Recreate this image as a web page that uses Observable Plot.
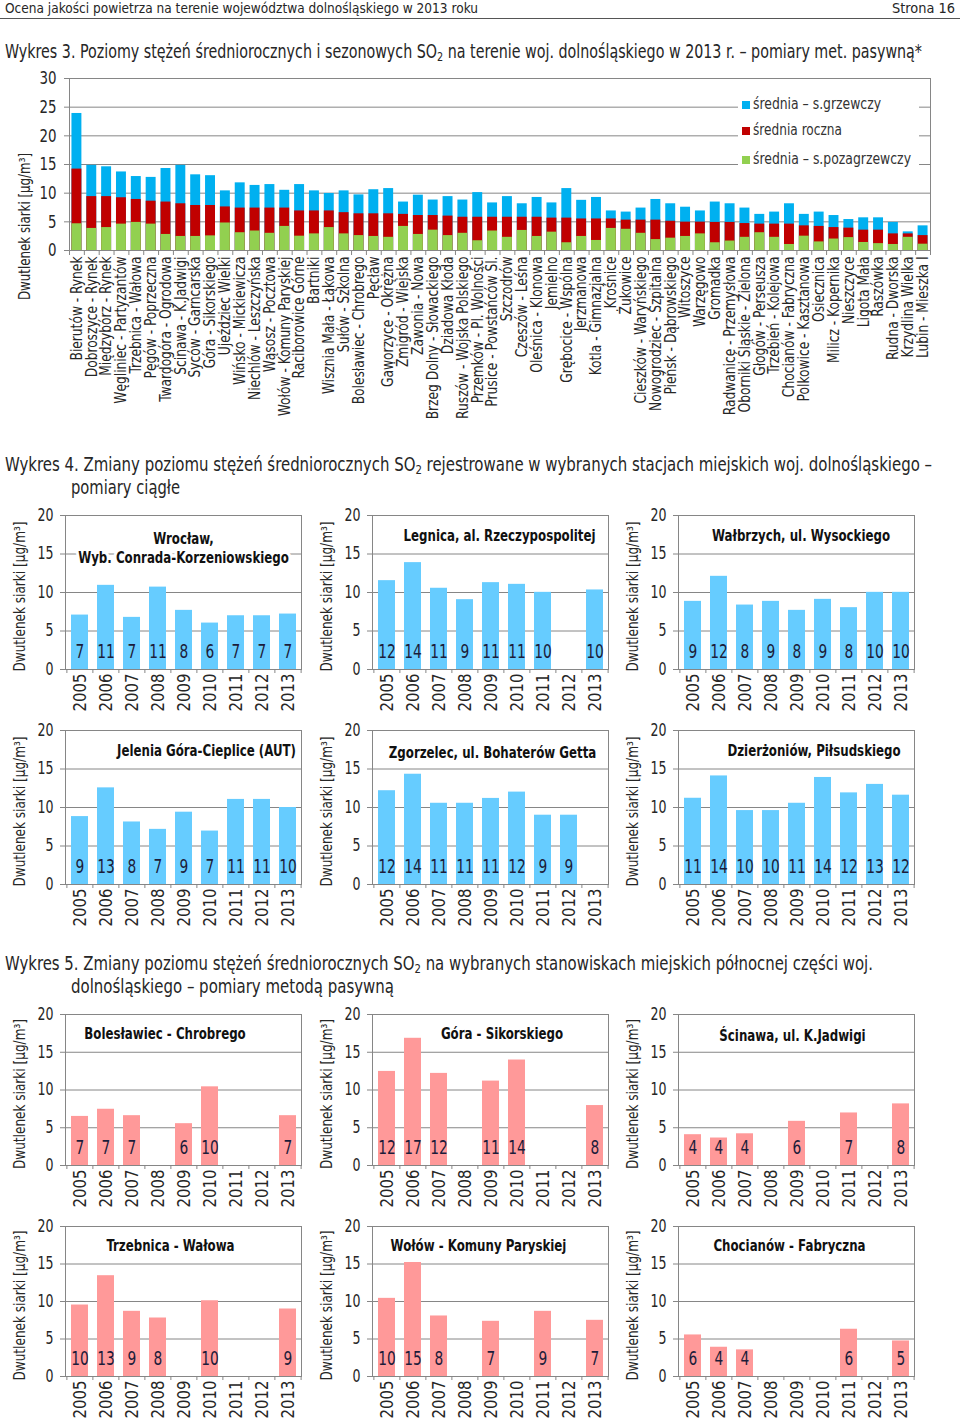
<!DOCTYPE html>
<html><head><meta charset="utf-8">
<script src="https://cdn.jsdelivr.net/npm/d3@7"></script>
<script src="https://cdn.jsdelivr.net/npm/@observablehq/plot@0.6"></script>
<style>
body{margin:0;background:#fff;}
#page{position:relative;width:960px;height:1419px;overflow:hidden;background:#fff;}
</style></head><body><div id="page"></div>
<script>
// ---------- DATA ----------
const stations = ["Bierutów - Rynek","Dobroszyce - Rynek","Międzybórz - Rynek","Węgliniec - Partyzantów","Trzebnica - Wałowa","Pęgów - Poprzeczna","Twardogóra - Ogrodowa","Ścinawa - K.Jadwigi","Syców - Garncarska","Góra - Sikorskiego","Ujeździec Wielki","Wińsko - Mickiewicza","Niechlów - Leszczyńska","Wąsosz - Pocztowa","Wołów - Komuny Paryskiej","Raciborowice Górne","Bartniki","Wisznia Mała - Łąkowa","Sułów - Szkolna","Bolesławiec - Chrobrego","Pęcław","Gaworzyce - Okrężna","Żmigród - Wiejska","Zawonia - Nowa","Brzeg Dolny - Słowackiego","Dziadowa Kłoda","Ruszów - Wojska Polskiego","Przemków - Pl. Wolności","Prusice - Powstańców Śl.","Szczodrów","Czeszów - Leśna","Oleśnica - Klonowa","Jemielno","Grębocice - Wspólna","Jerzmanowa","Kotla - Gimnazjalna","Krośnice","Żukowice","Cieszków - Waryńskiego","Nowogrodziec - Szpitalna","Pieńsk - Dąbrowskiego","Witoszyce","Warzęgowo","Gromadka","Radwanice - Przemysłowa","Oborniki Śląskie - Zielona","Głogów - Perseusza","Trzebień - Kolejowa","Chocianów - Fabryczna","Polkowice - Kasztanowa","Osiecznica","Milicz - Kopernika","Nieszczyce","Ligota Mała","Raszówka","Rudna - Dworska","Krzydlina Wielka","Lubin - Mieszka I"];
const sGrzewczy = [23.9,14.85,14.6,13.7,12.9,12.75,14.3,14.85,13.2,13.05,10.4,11.8,11.35,11.5,10.5,11.5,10.4,9.95,10.4,9.7,10.6,10.8,8.45,9.65,8.8,9.4,8.8,10.1,8.3,9.4,8.15,9.25,8.3,10.8,8.75,9.25,6.9,6.7,7.4,8.9,8.15,7.55,6.9,8.45,8.15,7.4,6.3,6.7,8.15,6.3,6.7,6.1,5.4,5.7,5.7,4.9,3.25,4.3];
const sRoczna = [14.2,9.4,9.4,9.2,8.9,8.6,8.45,8.15,7.85,7.85,7.6,7.4,7.4,7.4,7.4,6.9,6.9,6.9,6.6,6.4,6.4,6.4,6.3,6.1,6.1,6.0,5.8,5.8,5.8,5.8,5.8,5.8,5.65,5.65,5.5,5.5,5.5,5.3,5.3,5.3,5.1,4.95,4.95,4.9,4.9,4.7,4.6,4.6,4.6,4.3,4.2,4.0,3.9,3.55,3.55,2.9,2.9,2.6];
const sPozagrzewczy = [4.66,3.85,4.0,4.6,4.9,4.6,2.8,2.45,2.45,2.55,4.8,3.1,3.4,3.0,4.2,2.5,2.9,4.0,2.9,2.6,2.45,2.3,4.2,2.8,3.55,2.6,3.0,1.7,3.4,2.3,3.5,2.45,3.2,1.35,2.45,1.75,3.85,3.7,3.0,1.9,2.15,2.45,2.9,1.35,1.65,2.3,3.1,2.3,1.05,2.5,1.5,2.0,2.25,1.4,1.2,1.05,2.3,1.1];
const seriesNames = ["średnia – s.grzewczy","średnia roczna","średnia – s.pozagrzewczy"];
const seriesColors = ["#00b0f0","#c00000","#92d050"];
const yTicksTop = [0,5,10,15,20,25,30];

const years = ["2005","2006","2007","2008","2009","2010","2011","2012","2013"];
const yTicksPanel = [0,5,10,15,20];
// Wykres 4 (pomiary ciągłe)
const wroclaw    = [7.07,10.93,6.77,10.7,7.68,6.03,6.98,6.98,7.2];
const legnica    = [11.54,13.88,10.55,9.07,11.28,11.06,10.02,null,10.33];
const walbrzych  = [8.85,12.1,8.37,8.85,7.68,9.11,8.03,10.02,10.02];
const jeleniaGora= [8.82,12.55,8.12,7.16,9.39,6.94,11.05,11.05,10.0];
const zgorzelec  = [12.18,14.32,10.55,10.55,11.18,12.0,9.0,9.0,null];
const dzierzoniow= [11.2,14.1,9.6,9.6,10.55,13.9,11.9,13.0,11.6];
// Wykres 5 (metoda pasywna)
const boleslawiec= [6.5,7.45,6.6,null,5.54,10.42,null,null,6.6];
const gora       = [12.46,16.85,12.2,null,11.18,13.97,null,null,7.94];
const scinawa    = [4.08,3.64,4.2,null,5.85,null,6.96,null,8.16];
const trzebnica  = [9.53,13.44,8.69,7.8,null,10.1,null,null,9.0];
const wolow      = [10.42,15.2,8.07,null,7.36,null,8.69,null,7.49];
const chocianow  = [5.54,3.9,3.55,null,null,null,6.3,null,4.74];

// ---------- STYLE ----------
const NARROW = '"Liberation Sans Narrow","Arial Narrow","DejaVu Sans Condensed",sans-serif';
const GRID = "#868686";
const TXT = "#262626";
const YLABEL = "Dwutlenek siarki [µg/m³]";
const page = document.getElementById("page");

function addLine(html, x, baseline, size, targetW, opts = {}) {
  const d = document.createElement("div");
  d.innerHTML = html;
  d.style.cssText = `position:absolute;white-space:nowrap;line-height:1;font-size:${size}px;color:${opts.color || TXT};font-family:${NARROW};`;
  page.appendChild(d);
  d.style.top = (baseline - 0.8465 * size) + "px";
  const w = d.getBoundingClientRect().width;
  d.style.transformOrigin = "0 0";
  if (targetW) d.style.transform = `scaleX(${targetW / w})`;
  d.style.left = (opts.right ? x - (targetW || w) : x) + "px";
  return d;
}
function placeSvg(svg, left, top) {
  svg.style.position = "absolute";
  svg.style.left = left + "px";
  svg.style.top = top + "px";
  page.appendChild(svg);
}
// text measuring, to give the SVG texts the narrow widths of the reference
const measSvg = d3.select(page).append("svg").attr("width", 1).attr("height", 1).style("position", "absolute").style("left", "-10px");
function measure(str, size, weight = "normal") {
  const t = measSvg.append("text").style("font-family", NARROW).style("font-size", size + "px").style("font-weight", weight).text(str);
  const w = t.node().getComputedTextLength();
  t.remove();
  return w;
}
function squeeze(nodes, k, fixed) {
  nodes.forEach(n => {
    const tsp = n.querySelectorAll("tspan");
    const targets = tsp.length ? [...tsp] : [n];
    targets.forEach(t => {
      const L = t.getComputedTextLength();
      if (L > 0) {
        t.setAttribute("textLength", fixed ? fixed : L * k);
        t.setAttribute("lengthAdjust", "spacingAndGlyphs");
      }
    });
  });
}
const TITLE_SIZE = 16;
const kStation = 104 / measure("Bierutów - Rynek", 15);
const kYear = 38 / measure("2005", 18);
const kTitle = 192 / measure("Legnica, al. Rzeczypospolitej", TITLE_SIZE, "bold");
const kTick = 16 / measure("20", 17);
const kTickTop = 17 / measure("30", 18);
const kValue = 17.5 / measure("12", 20);

const SUB2 = '<span style="font-size:0.68em;position:relative;top:0.25em">2</span>';

// ---------- HEADER ----------
addLine("Ocena jakości powietrza na terenie województwa dolnośląskiego w 2013 roku", 5, 13, 14, 473);
addLine("Strona 16", 955, 13, 14, 63, {right: true});
const hr = document.createElement("div");
hr.style.cssText = "position:absolute;left:0;top:18px;width:960px;height:1px;background:#555;";
page.appendChild(hr);

addLine(`Wykres 3. Poziomy stężeń średniorocznych i sezonowych SO${SUB2} na terenie woj. dolnośląskiego w 2013 r. – pomiary met. pasywną*`, 5, 58, 19, 917);

// ---------- TOP CHART ----------
const rows = [];
[sGrzewczy, sRoczna, sPozagrzewczy].forEach((arr, k) =>
  arr.forEach((v, i) => rows.push({station: stations[i], value: v, series: seriesNames[k]})));
const topW = 861, topH = 172;
const topStep = topW / stations.length;
const topSvg = Plot.plot({
  width: 69 + topW + 5, height: 13 + topH + 180,
  marginLeft: 69, marginRight: 5, marginTop: 13, marginBottom: 180,
  style: {fontFamily: NARROW, background: "transparent", overflow: "visible", color: TXT},
  x: {domain: stations, paddingInner: 0.33, paddingOuter: 0.165, axis: null},
  y: {domain: [0, 30], axis: null},
  color: {domain: seriesNames, range: seriesColors},
  marks: [
    Plot.gridY([5, 10, 15, 20, 25], {stroke: GRID, strokeOpacity: 1}),
    Plot.barY(rows, {x: "station", y1: 0, y2: "value", fill: "series"}),
    Plot.frame({stroke: GRID}),
    Plot.axisY(yTicksTop, {tickSize: 5, tickPadding: 8, fontSize: 18, stroke: GRID, fill: TXT, label: null}),
    Plot.axisX({tickRotate: -90, tickSize: 0, tickPadding: 6, fontSize: 15, fill: TXT, label: null}),
    Plot.ruleX(stations, {x: d => d, dx: -topStep / 2, y1: 0, y2: -5 * 30 / topH, stroke: GRID}),
    Plot.ruleX([stations[stations.length - 1]], {x: d => d, dx: topStep / 2, y1: 0, y2: -5 * 30 / topH, stroke: GRID}),
    Plot.text([YLABEL], {text: d => d, frameAnchor: "left", textAnchor: "middle", lineAnchor: "middle", rotate: -90, dx: -45, dy: 62, fontSize: 16, fill: TXT})
  ]
});
placeSvg(topSvg, 0, 65);
squeeze(topSvg.querySelectorAll('[aria-label^="x-axis"] text'), kStation);
squeeze(topSvg.querySelectorAll('[aria-label^="y-axis"] text'), kTickTop);
squeeze(topSvg.querySelectorAll('g[aria-label="text"] text'), 1, 147);

// legend (HTML)
const leg = document.createElement("div");
leg.style.cssText = "position:absolute;left:738px;top:92px;width:181px;height:82px;background:#fff;";
page.appendChild(leg);
const legY = [105, 131, 160];
seriesNames.forEach((name, i) => {
  const sq = document.createElement("div");
  sq.style.cssText = `position:absolute;left:742px;top:${legY[i] - 4}px;width:8px;height:8px;background:${seriesColors[i]};`;
  page.appendChild(sq);
  addLine(name, 753, legY[i] + 5, 15, [128, 89, 158][i], {color: "#333"});
});

// ---------- SMALL PANELS ----------
const colLeft = [65, 372, 678];
const rowTop = [515, 730, 1014, 1226];
const rowH = [154, 154, 151, 150];
const BLUE = "#66ccff", PINK = "#ff9999";

function smallPanel(p) {
  const plotLeft = colLeft[p.col], plotTop = rowTop[p.row], plotH = rowH[p.row];
  const data = years.map((y, i) => ({year: y, value: p.values[i]})).filter(d => d.value != null);
  const W = 236, mL = 60, mR = 6, mT = 8, mB = 50;
  const step = W / years.length;
  const tick = -4 * 20 / plotH;
  const svg = Plot.plot({
    width: mL + W + mR, height: mT + plotH + mB,
    marginLeft: mL, marginRight: mR, marginTop: mT, marginBottom: mB,
    style: {fontFamily: NARROW, background: "transparent", overflow: "visible", color: TXT},
    x: {domain: years, paddingInner: 0.35, paddingOuter: 0.175, axis: null},
    y: {domain: [0, 20], axis: null},
    marks: [
      Plot.gridY([5, 10, 15], {stroke: GRID, strokeOpacity: 1}),
      Plot.barY(data, {x: "year", y1: 0, y2: "value", fill: p.color}),
      Plot.text(data, {x: "year", text: d => String(Math.round(d.value)), frameAnchor: "bottom", lineAnchor: "middle", dy: -18, fontSize: 20, fill: "#1c1c3a"}),
      Plot.text([p.title], {text: d => d, frameAnchor: "top-left", dx: p.tdx, dy: p.tdy, textAnchor: "middle", lineAnchor: "middle", fontWeight: "bold", fontSize: TITLE_SIZE, fill: "#111", stroke: "white", strokeWidth: 7, paintOrder: "stroke", lineHeight: 1.2}),
      Plot.frame({stroke: GRID}),
      Plot.axisY(yTicksPanel, {tickSize: 5, tickPadding: 7, fontSize: 17, stroke: GRID, fill: TXT, label: null}),
      Plot.axisX({tickRotate: -90, tickSize: 0, tickPadding: 4, fontSize: 18, fill: TXT, label: null}),
      Plot.ruleX(years, {x: d => d, dx: -step / 2, y1: 0, y2: tick, stroke: GRID}),
      Plot.ruleX([years[years.length - 1]], {x: d => d, dx: step / 2, y1: 0, y2: tick, stroke: GRID}),
      Plot.text([YLABEL], {text: d => d, frameAnchor: "left", textAnchor: "middle", lineAnchor: "middle", rotate: -90, dx: -46, dy: 4, fontSize: 16, fill: TXT})
    ]
  });
  placeSvg(svg, plotLeft - mL, plotTop - mT);
  squeeze(svg.querySelectorAll('[aria-label^="x-axis"] text'), kYear);
  squeeze(svg.querySelectorAll('[aria-label^="y-axis"] text'), kTick);
  const groups = svg.querySelectorAll('g[aria-label="text"]');
  if (groups[0]) squeeze(groups[0].querySelectorAll("text"), kValue);
  if (groups[1]) squeeze(groups[1].querySelectorAll("text"), kTitle);
  if (groups[2]) squeeze(groups[2].querySelectorAll("text"), 1, 150);
}

addLine(`Wykres 4. Zmiany poziomu stężeń średniorocznych SO${SUB2} rejestrowane w wybranych stacjach miejskich woj. dolnośląskiego –`, 5, 471, 19, 927);
addLine("pomiary ciągłe", 71, 494, 19, 109);

[
  {values: wroclaw, title: "Wrocław,\nWyb. Conrada-Korzeniowskiego", col: 0, row: 0, tdx: 118, tdy: 31.5, color: BLUE},
  {values: legnica, title: "Legnica, al. Rzeczypospolitej", col: 1, row: 0, tdx: 127, tdy: 19, color: BLUE},
  {values: walbrzych, title: "Wałbrzych, ul. Wysockiego", col: 2, row: 0, tdx: 122.5, tdy: 19, color: BLUE},
  {values: jeleniaGora, title: "Jelenia Góra-Cieplice (AUT)", col: 0, row: 1, tdx: 141, tdy: 19, color: BLUE},
  {values: zgorzelec, title: "Zgorzelec, ul. Bohaterów Getta", col: 1, row: 1, tdx: 120, tdy: 21, color: BLUE},
  {values: dzierzoniow, title: "Dzierżoniów, Piłsudskiego", col: 2, row: 1, tdx: 135.5, tdy: 19, color: BLUE}
].forEach(smallPanel);

addLine(`Wykres 5. Zmiany poziomu stężeń średniorocznych SO${SUB2} na wybranych stanowiskach miejskich północnej części woj.`, 5, 970, 19, 868);
addLine("dolnośląskiego – pomiary metodą pasywną", 71, 993, 19, 323);

[
  {values: boleslawiec, title: "Bolesławiec - Chrobrego", col: 0, row: 2, tdx: 99.5, tdy: 18, color: PINK},
  {values: gora, title: "Góra - Sikorskiego", col: 1, row: 2, tdx: 129.5, tdy: 18, color: PINK},
  {values: scinawa, title: "Ścinawa, ul. K.Jadwigi", col: 2, row: 2, tdx: 114, tdy: 20, color: PINK},
  {values: trzebnica, title: "Trzebnica - Wałowa", col: 0, row: 3, tdx: 105, tdy: 18, color: PINK},
  {values: wolow, title: "Wołów - Komuny Paryskiej", col: 1, row: 3, tdx: 106, tdy: 18, color: PINK},
  {values: chocianow, title: "Chocianów - Fabryczna", col: 2, row: 3, tdx: 111, tdy: 18, color: PINK}
].forEach(smallPanel);
</script></body></html>
